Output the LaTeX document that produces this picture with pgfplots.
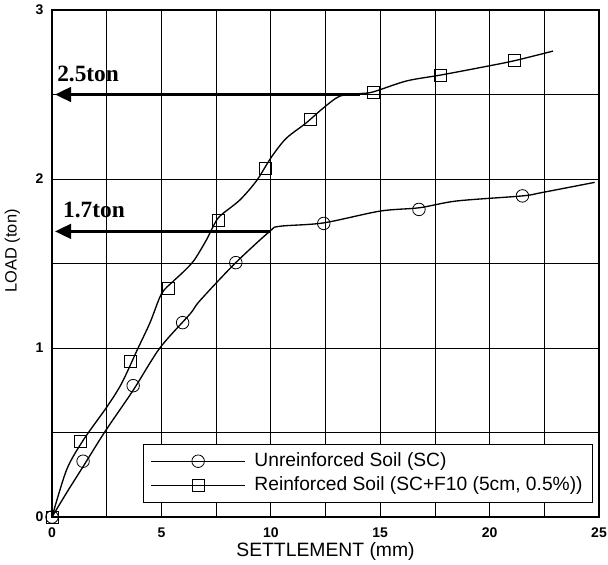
\documentclass[border=0pt]{standalone}
\usepackage{fontspec}
\setmainfont{Liberation Sans}
\newfontfamily\timesfont{Liberation Serif}
\usepackage{pgfplots}
\pgfplotsset{compat=1.18}
\usetikzlibrary{arrows.meta,calc}
\begin{document}
\begin{tikzpicture}
\begin{axis}[name=ax, scale only axis, width=410.25pt, height=380.25pt,
  xmin=0, xmax=25, ymin=0, ymax=3,
  xtick={0,5,...,25}, ytick={0,1,2,3},
  minor xtick={2.5,7.5,...,22.5}, minor ytick={0.5,1.5,2.5},
  grid=both,
  major grid style={black,line width=0.6pt},
  minor grid style={black,line width=0.6pt},
  major tick length=0pt, minor tick length=0pt,
  axis line style={line width=0.9pt},
  /pgf/number format/assume math mode=true,
  ticklabel style={font=\bfseries\fontsize{10.5}{12}\selectfont},
  xticklabel style={yshift=-4.5pt},
  yticklabel style={xshift=-3pt},
  xlabel={SETTLEMENT (mm)}, ylabel={LOAD (ton)},
  xlabel style={font=\fontsize{14.5}{16}\selectfont, at={(axis description cs:0.5,-0.068)},anchor=center},
  ylabel style={font=\fontsize{12.3}{14}\selectfont, at={(axis description cs:-0.0722,0.525)},anchor=center},
  legend style={at={(rel axis cs:0.989,0.0276)}, anchor=south east,
    font=\fontsize{14.4}{16}\selectfont, draw=black, line width=0.6pt,
    inner xsep=5.5pt, inner ysep=3.9pt, row sep=0.6pt, column sep=5pt, fill=white,
    nodes={inner sep=2pt, text height=10.5pt, text depth=3.2pt}},
  legend cell align=left,
  legend image code/.code={\draw[solid,line width=0.5pt] (0pt,0pt) -- (70pt,0pt); \draw plot coordinates {(35pt,0pt)};},
]
% smoothed curves
\addplot[black, line width=1pt, smooth, forget plot]
  coordinates {(0,0) (0.7,0.15) (1.43,0.30) (2.42,0.505) (3.71,0.75) (4.93,1.0)
  (6.3,1.2) (6.76,1.28) (8.36,1.50) (9.95,1.69) (10.4,1.72) (12.4,1.74)
  (14.99,1.81) (16.8,1.83) (18.5,1.87) (21.5,1.90) (22.4,1.92) (24.8,1.98)};
\addplot[black, line width=1pt, smooth, forget plot]
  coordinates {(0,0) (0.67,0.28) (1.43,0.455) (2.5,0.65) (3.18,0.79) (3.9,0.99)
  (4.48,1.15) (5.0,1.32) (5.5,1.39) (6.0,1.45) (6.5,1.52) (7.06,1.64) (7.37,1.72)
  (7.67,1.78) (8.58,1.875) (9.35,1.99) (10.03,2.13) (10.7,2.24) (11.6,2.33)
  (12.4,2.42) (13.15,2.49) (14.06,2.505) (14.67,2.515) (16.2,2.58) (17.76,2.615)
  (19.6,2.66) (21.14,2.70) (22.9,2.757)};
% measured points
\addplot[black, only marks, mark=o, mark size=4.7pt,
  mark options={fill=white, solid, line width=0.6pt}]
  coordinates {(0,0) (1.42,0.33) (3.71,0.777) (5.97,1.15) (8.4,1.505)
  (12.42,1.737) (16.77,1.82) (21.5,1.90)};
\addlegendentry{Unreinforced Soil (SC)}
\addplot[black, only marks, mark=square, mark size=4.5pt,
  mark options={fill=white, solid, line width=0.6pt}]
  coordinates {(0,0) (1.32,0.445) (3.6,0.92) (5.34,1.355) (7.6,1.757)
  (9.77,2.06) (11.82,2.355) (14.67,2.51) (17.76,2.615) (21.14,2.70)};
\addlegendentry{Reinforced Soil (SC+F10 (5cm, 0.5\%))}
\draw[line width=2pt,-{Triangle[length=12pt,width=11pt]}] (axis cs:14.06,2.5) -- (axis cs:0.14,2.5);
\draw[line width=2pt,-{Triangle[length=12pt,width=11pt]}] (axis cs:9.95,1.69) -- (axis cs:0.14,1.69);
\node[font=\timesfont\bfseries\fontsize{17.5}{20}\selectfont, anchor=base west, inner sep=0pt] at (axis cs:0.23,2.576) {2.5ton};
\node[font=\timesfont\bfseries\fontsize{17.5}{20}\selectfont, anchor=base west, inner sep=0pt] at (axis cs:0.5,1.77) {1.7ton};
\end{axis}
\pgfresetboundingbox
\path ($(ax.south west)+(-39pt,-36pt)$) rectangle ($(ax.north east)+(6.75pt,7.5pt)$);
\end{tikzpicture}
\end{document}
